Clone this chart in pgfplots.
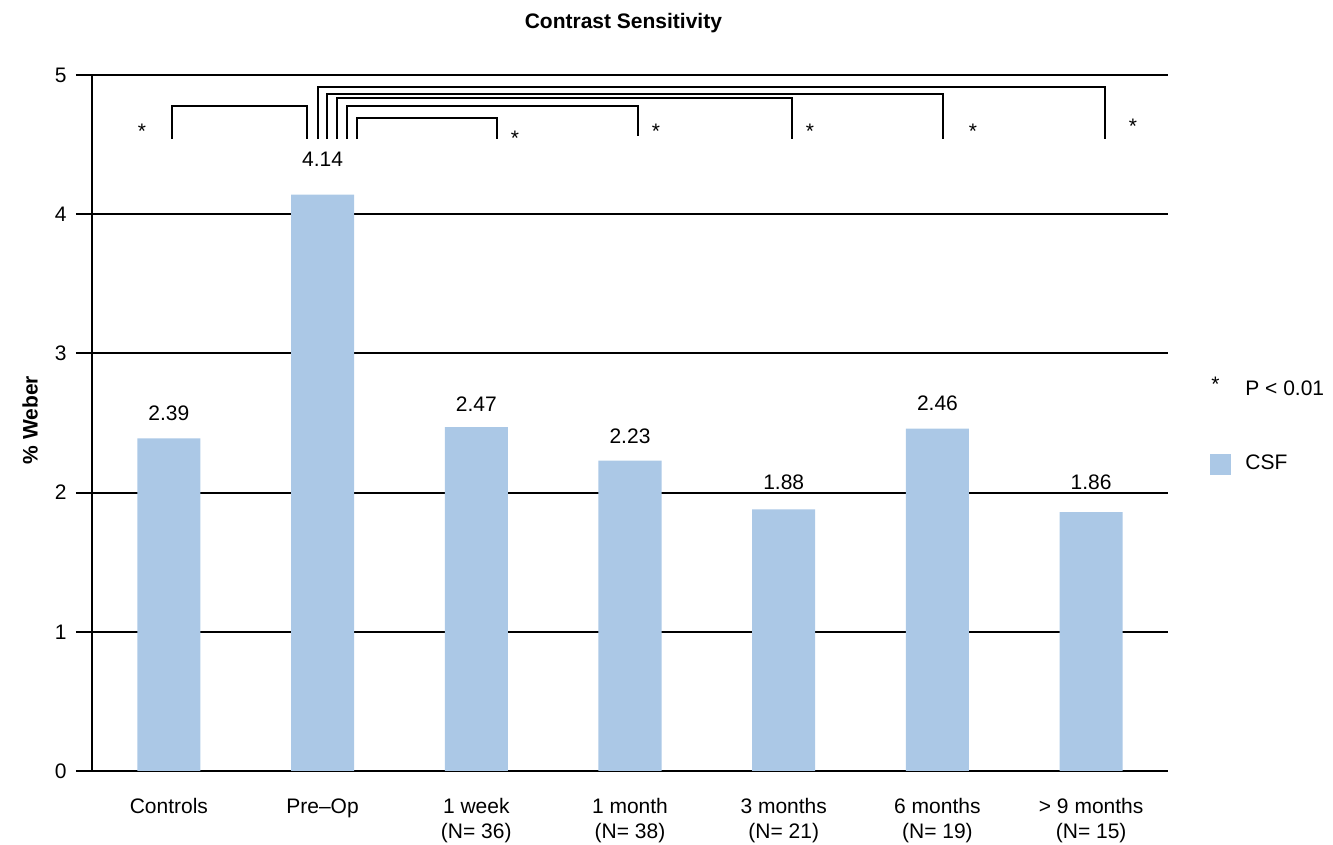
\documentclass[border=0pt]{standalone}
\usepackage{pgfplots}
\pgfplotsset{compat=1.18}
\usepackage{pgfplotstable}
\usepackage{fontspec}
\setmainfont{Liberation Sans}
\definecolor{barcol}{RGB}{171,200,230}

\pgfplotstableread{
x y dy
0 2.39 12.5
1 4.14 17.5
2 2.47 11.5
3 2.23 12
4 1.88 13.5
5 2.46 12.5
6 1.86 15
}\csfdata

\begin{document}
\fontsize{10.5}{12.5}\selectfont
\begin{tikzpicture}
\useasboundingbox (-46pt,-37pt) rectangle (620.5pt,385.5pt);
\begin{axis}[
  at={(0pt,0pt)}, anchor=south west,
  scale only axis, width=538pt, height=348pt,
  xmin=-0.5, xmax=6.5, ymin=0, ymax=5,
  axis lines*=left,
  axis line style={line width=1.2pt, black},
  tick align=outside,
  major tick length=8pt,
  minor tick length=5pt,
  xtick={0,1,2,3,4,5,6},
  xticklabels={Controls, Pre--Op, {1 week\\(N= 36)}, {1 month\\(N= 38)}, {3 months\\(N= 21)}, {6 months\\(N= 19)}, {> 9 months\\(N= 15)}},
  xtick style={draw=none},
  minor xtick={-0.5,0.5,1.5,2.5,3.5,4.5,5.5,6.5},
  minor x tick style={black, line width=1pt},
  xticklabel style={align=center, anchor=north, yshift=-2pt},
  ytick={0,1,2,3,4,5},
  ytick style={black, line width=1pt},
  yticklabel style={anchor=east, xshift=-1pt},
  ymajorgrids,
  major grid style={black, line width=1pt},
  /pgf/number format/assume math mode=true,
  ylabel={\bfseries \% Weber},
  ylabel style={at={(axis description cs:-0.0576,0.504)}, anchor=center, rotate=0},
  clip=false,
  legend style={at={(axis description cs:1.039,0.567)}, anchor=north west, draw=none, fill=none, inner sep=0pt, row sep=24pt, cells={anchor=west}},
  legend cell align=left,
]
\addlegendimage{legend image code/.code={\path[draw=none, fill=none] (0pt,-5.25pt) rectangle (12.5pt,5.25pt); \node[inner sep=0pt, anchor=base, draw=none, fill=none, text=black] at (2.5pt,-0.5pt) {*};}}
\addlegendentry{P < 0.01}
\addplot[ybar, bar width=0.41, fill=barcol, draw=none,
  nodes near coords,
  visualization depends on={\thisrow{dy}\as\dy},
  nodes near coords style={anchor=center, yshift=\dy pt, /pgf/number format/fixed, /pgf/number format/precision=2, /pgf/number format/fixed zerofill},
  legend image code/.code={\fill[barcol] (0pt,-5.25pt) rectangle (10.5pt,5.25pt); \path[draw=none, fill=none] (15.5pt,0pt);}
] table[x=x, y=y] {\csfdata};
\addlegendentry{CSF}
% significance brackets
\addplot[black, line width=1.1pt, line join=miter, forget plot] coordinates {(0.018,4.540)(0.018,4.777)(0.897,4.777)(0.897,4.540)};
\addplot[black, line width=1.1pt, line join=miter, forget plot] coordinates {(0.968,4.540)(0.968,4.916)(6.090,4.916)(6.090,4.540)};
\addplot[black, line width=1.1pt, line join=miter, forget plot] coordinates {(1.027,4.540)(1.027,4.864)(5.036,4.864)(5.036,4.540)};
\addplot[black, line width=1.1pt, line join=miter, forget plot] coordinates {(1.092,4.540)(1.092,4.833)(4.053,4.833)(4.053,4.540)};
\addplot[black, line width=1.1pt, line join=miter, forget plot] coordinates {(1.157,4.540)(1.157,4.777)(3.052,4.777)(3.052,4.560)};
\addplot[black, line width=1.1pt, line join=miter, forget plot] coordinates {(1.226,4.540)(1.226,4.689)(2.135,4.689)(2.135,4.540)};
\node[anchor=base, inner sep=0pt] at (axis cs:-0.175,4.547) {*};
\node[anchor=base, inner sep=0pt] at (axis cs:2.252,4.497) {*};
\node[anchor=base, inner sep=0pt] at (axis cs:3.169,4.547) {*};
\node[anchor=base, inner sep=0pt] at (axis cs:4.171,4.547) {*};
\node[anchor=base, inner sep=0pt] at (axis cs:5.231,4.547) {*};
\node[anchor=base, inner sep=0pt] at (axis cs:6.272,4.583) {*};
\end{axis}
\node[anchor=base, font=\bfseries] at (265.7pt,371.4pt) {Contrast Sensitivity};
\end{tikzpicture}
\end{document}
